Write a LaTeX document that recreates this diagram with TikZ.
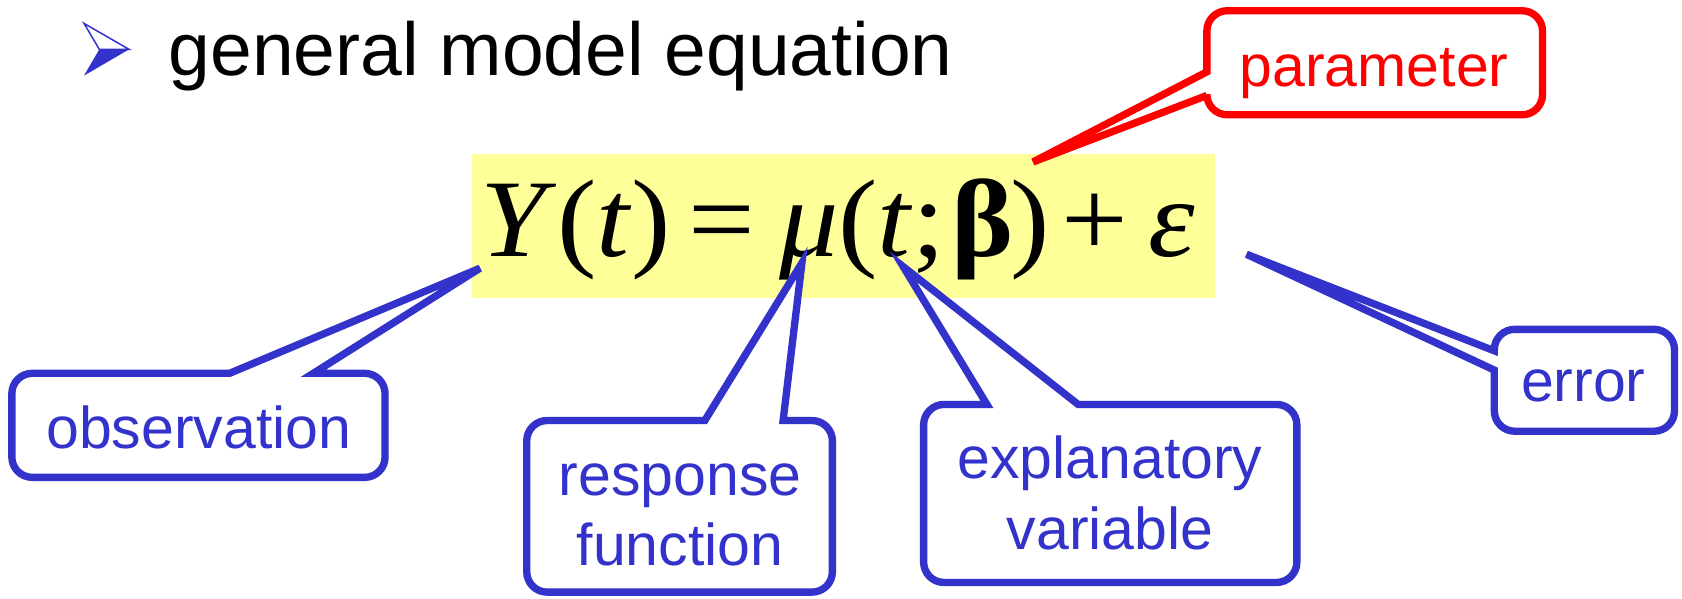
\documentclass[tikz,border=0pt]{standalone}
\usepackage{fontspec}
\setmainfont{Liberation Sans}
\newfontfamily\eqfont{Liberation Serif}
\usetikzlibrary{calc}
\definecolor{cblue}{RGB}{51,51,204}
\definecolor{cred}{RGB}{255,0,0}
\definecolor{hlyellow}{RGB}{255,255,153}
\newcommand\crad{19}
\newcommand\cctl{8.5}
\newcommand\topcallout[5]{%
  \draw[callout,#1] ($(#2.north west)+(#3,0)$) -- (#5) -- ($(#2.north west)+(#4,0)$)
   -- ($(#2.north east)+(-\crad,0)$) .. controls ($(#2.north east)+(-\cctl,0)$) and ($(#2.north east)+(0,\cctl)$) .. ($(#2.north east)+(0,\crad)$)
   -- ($(#2.south east)+(0,-\crad)$) .. controls ($(#2.south east)+(0,-\cctl)$) and ($(#2.south east)+(-\cctl,0)$) .. ($(#2.south east)+(-\crad,0)$)
   -- ($(#2.south west)+(\crad,0)$) .. controls ($(#2.south west)+(\cctl,0)$) and ($(#2.south west)+(0,-\cctl)$) .. ($(#2.south west)+(0,-\crad)$)
   -- ($(#2.north west)+(0,\crad)$) .. controls ($(#2.north west)+(0,\cctl)$) and ($(#2.north west)+(\cctl,0)$) .. ($(#2.north west)+(\crad,0)$)
   -- cycle;}
\newcommand\leftcallout[5]{%
  \draw[callout,#1] ($(#2.north west)+(0,#3)$) -- (#5) -- ($(#2.north west)+(0,#4)$)
   -- ($(#2.south west)+(0,-\crad)$) .. controls ($(#2.south west)+(0,-\cctl)$) and ($(#2.south west)+(\cctl,0)$) .. ($(#2.south west)+(\crad,0)$)
   -- ($(#2.south east)+(-\crad,0)$) .. controls ($(#2.south east)+(-\cctl,0)$) and ($(#2.south east)+(0,-\cctl)$) .. ($(#2.south east)+(0,-\crad)$)
   -- ($(#2.north east)+(0,\crad)$) .. controls ($(#2.north east)+(0,\cctl)$) and ($(#2.north east)+(-\cctl,0)$) .. ($(#2.north east)+(-\crad,0)$)
   -- ($(#2.north west)+(\crad,0)$) .. controls ($(#2.north west)+(\cctl,0)$) and ($(#2.north west)+(0,\cctl)$) .. ($(#2.north west)+(0,\crad)$)
   -- cycle;}
\begin{document}
\begin{tikzpicture}[x=0.02cm,y=-0.02cm,
  boxframe/.style={rectangle, inner sep=0pt, outer sep=0pt},
  callout/.style={line width=3.9pt, fill=white, line join=miter},
  lbl/.style={inner sep=0pt, anchor=base, font=\fontsize{31.3}{36}\selectfont},
]
\useasboundingbox (0,0) rectangle (1568,558);
\fill[white] (0,0) rectangle (1568,558);

% bullet
\fill[cblue] (92.6,46) -- (120.3,46) -- (78.3,70.5) -- cycle;
\draw[cblue, line width=0.8pt, line join=miter] (78.3,21.8) -- (120.3,46) -- (92.6,46) -- cycle;

% title
\node[anchor=base west, inner sep=0pt, font=\fontsize{39.8}{44}\selectfont] (title) at (157,70.7) {general model equation};

% equation
\node[boxframe, fill=hlyellow, minimum width=13.86cm, minimum height=2.68cm] (eqbg) at (786.5,210.5) {};
\node[anchor=base west, inner sep=0pt, font=\eqfont\fontsize{58.6}{62}\selectfont] (eq) at (448,239.3)
  {\scalebox{1.07}[1]{\textit{Y}(\textit{t})\hspace{0.15em}=\hspace{0.2em}\textit{μ}(\textit{t};\hspace{0.05em}\textbf{β}\hspace{-0.03em})\hspace{0.1em}+\hspace{0.17em}\textit{ε}}};

% callout frames
\node[boxframe, minimum width=6.26cm, minimum height=1.94cm] (parambox) at (1281.5,58.5) {};
\node[boxframe, minimum width=6.96cm, minimum height=1.94cm] (obsbox) at (185,396.5) {};
\node[boxframe, minimum width=5.70cm, minimum height=3.20cm] (respbox) at (633.5,472) {};
\node[boxframe, minimum width=6.96cm, minimum height=3.32cm] (explbox) at (1035,460) {};
\node[boxframe, minimum width=3.36cm, minimum height=1.90cm] (errbox) at (1477,354.5) {};

% pointer tips
\coordinate (paramtip) at (963,151);
\coordinate (obstip) at (447.5,250);
\coordinate (resptip) at (747.6,245);
\coordinate (expltip) at (842,248.6);
\coordinate (errtip) at (1162,237);

\leftcallout{draw=cred}{parambox}{57}{79}{paramtip}
\topcallout{draw=cblue}{obsbox}{203}{281}{obstip}
\topcallout{draw=cblue}{respbox}{166}{239}{resptip}
\topcallout{draw=cblue}{explbox}{59}{144}{expltip}
\leftcallout{draw=cblue}{errbox}{20}{38}{errtip}

% labels
\node[lbl, text=cred] (paramtxt) at (1281,80.3) {parameter};
\node[lbl, text=cblue] (obstxt) at (185.4,418) {observation};
\node[lbl, text=cblue] (resptxt1) at (634,461.5) {response};
\node[lbl, text=cblue] (resptxt2) at (634,526.7) {function};
\node[lbl, text=cblue] (expltxt1) at (1034.8,446.5) {explanatory};
\node[lbl, text=cblue] (expltxt2) at (1034.8,512.7) {variable};
\node[lbl, text=cblue] (errtxt) at (1476,374.5) {error};
\end{tikzpicture}
\end{document}
